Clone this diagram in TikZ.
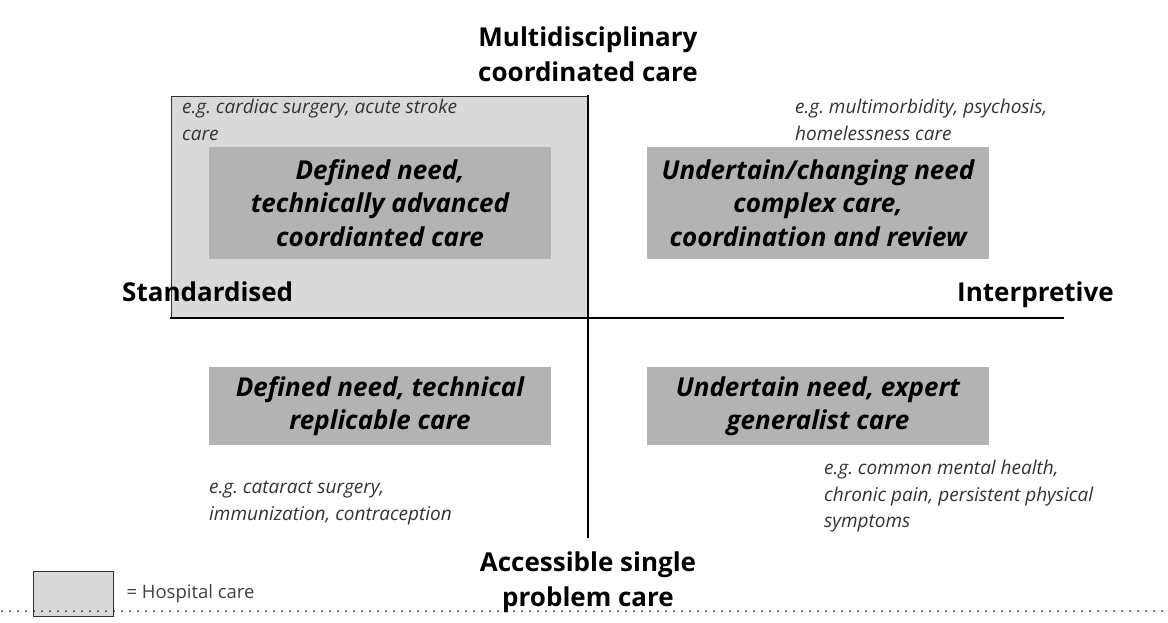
\documentclass[tikz,border=0pt]{standalone}
\usepackage{fontspec}
\setmainfont{Open Sans}
\begin{document}
\frenchspacing
\begin{tikzpicture}[x=1pt,y=-1pt,
  qbox/.style={fill=boxgrey, draw=none, minimum width=342pt, minimum height=112pt, align=center, font=\fontsize{26}{33.5}\selectfont\bfseries\itshape, inner sep=0pt},
  eg/.style={align=left, anchor=north west, font=\fontsize{19}{26.5}\selectfont\itshape, inner sep=0pt, text=black!80},
  axlabel/.style={font=\fontsize{26}{35}\selectfont\bfseries, align=center, inner sep=0pt},
  axis/.style={line width=2.6pt}]
\definecolor{hospgrey}{HTML}{D9D9D9}
\definecolor{boxgrey}{HTML}{B3B3B3}
\useasboundingbox (0,0) rectangle (1168,622);
% hospital region
\node[fill=hospgrey, draw=black!80, line width=1.3pt, minimum width=417pt, minimum height=222pt, inner sep=0pt, anchor=north west] (hosp) at (171,96) {};
% quadrant boxes
\node[qbox] (q1) at (380,203) {Defined need,\\technically advanced\\coordianted care};
\node[qbox] (q2) at (818,203) {Undertain/changing need\\complex care,\\coordination and review};
\node[qbox, minimum height=78pt] (q3) at (380,406) {Defined need, technical\\replicable care};
\node[qbox, minimum height=78pt] (q4) at (818,406) {Undertain need, expert\\generalist care};
% axes
\coordinate (vtop) at (588,95);
\coordinate (vbot) at (588,538);
\coordinate (hl) at (170,318);
\coordinate (hr) at (1064,318);
\draw[axis] (vtop) -- (vbot);
\draw[axis] (hl) -- (hr);
% axis labels
\node[axlabel] (top) at (588,54) {Multidisciplinary\\coordinated care};
\node[axlabel] (bot) at (588,582) {Accessible single\\problem care};
\node[axlabel, anchor=base west] (std) at (122,301) {Standardised};
\node[axlabel, anchor=base east] (int) at (1114,301) {Interpretive};
% examples
\node[eg] (e1) at (182,99) {e.g. cardiac surgery, acute stroke\\care};
\node[eg] (e2) at (795,99) {e.g. multimorbidity, psychosis,\\homelessness care};
\node[eg] (e3) at (209,481) {e.g. cataract surgery,\\immunization, contraception};
\node[eg] (e4) at (824,460) {e.g. common mental health,\\chronic pain, persistent physical\\symptoms};
% legend
\node[fill=hospgrey, draw=black!80, line width=1.3pt, minimum width=80pt, minimum height=45pt, inner sep=0pt, anchor=north west] (leg) at (33,571) {};
\node[anchor=west, inner sep=0pt, font=\fontsize{18.5}{20}\selectfont, text=black!75] (legt) at ([xshift=12pt]leg.east) {= Hospital care};
% dotted rule
\coordinate (dl) at (2,611);
\coordinate (dr) at (1162,611);
\draw[line width=2pt, line cap=round, dash pattern=on 0pt off 8pt, black!85] (dl) -- (dr);
\end{tikzpicture}
\end{document}
